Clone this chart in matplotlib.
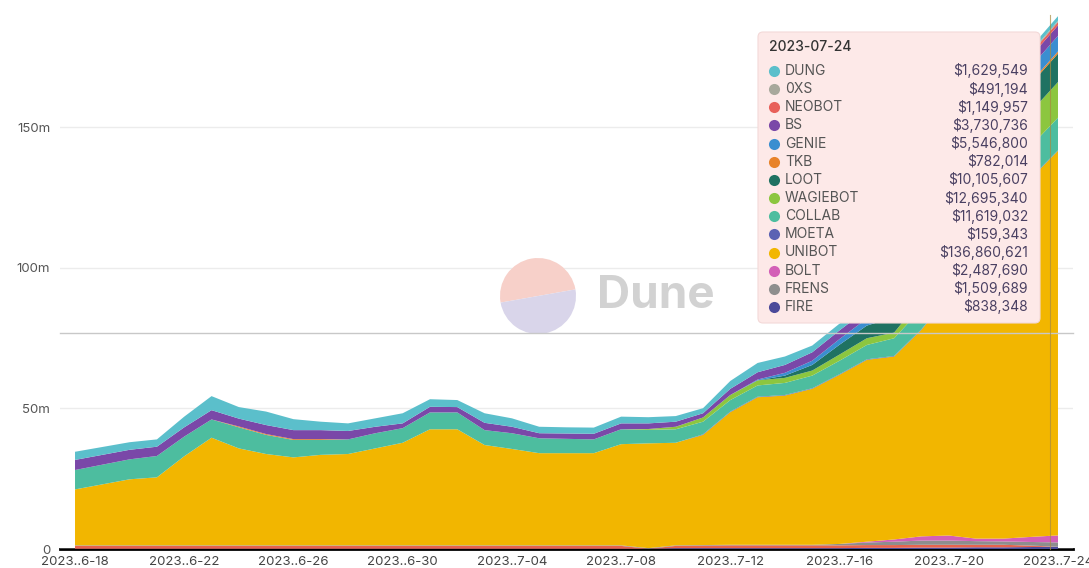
import numpy as np
import pandas as pd
import matplotlib
matplotlib.use("Agg")
import matplotlib.pyplot as plt
from matplotlib.patches import FancyBboxPatch, Wedge

plt.rcParams['font.family'] = ['Inter', 'DejaVu Sans']

# daily volume, millions of USD, 2023-06-18 .. 2023-07-24
dates = pd.date_range("2023-06-18", "2023-07-24", freq="D")

fire = [0.1] * 22 + [0.3, 0.3, 0.3, 0.3, 0.3, 0.3, 0.3, 0.4, 0.4, 0.5, 0.5, 0.6, 0.6, 0.7, 0.838348]
other_red = [1.0] * 21 + [0.0] + [0.8, 0.9, 1.0, 1.0, 1.0, 1.0, 1.0, 1.0, 1.0, 1.0, 1.0, 0.9, 0.9, 0.5, 0.0]
frens = [0.2] * 28 + [0.5, 0.9, 1.2, 1.5, 1.5, 1.3, 1.2, 1.3, 1.509689]
bolt = [0.0] * 29 + [0.3, 0.8, 1.5, 1.8, 0.9, 1.0, 1.8, 2.48769]
unibot = [19.9, 21.7, 23.5, 24.2, 31.7, 38.3, 34.5, 32.5, 31.3, 32.2,
          32.5, 34.5, 36.5, 41.3, 41.3, 35.7, 34.3, 32.8, 32.8, 32.8,
          36.0, 37.3, 36.5, 39.2, 47.2, 52.5, 53.1, 55.5, 60.2, 64.7,
          65.1, 73.5, 85.0, 98.0, 112.0, 127.5, 136.860621]
moeta = [0.0] * 23 + [0.2] * 13 + [0.159343]
collab = [6.9, 7.0, 7.1, 7.6, 7.0, 6.5, 7.5, 6.8, 6.2, 5.3,
          5.2, 5.4, 5.2, 6.0, 6.0, 5.3, 5.6, 5.3, 5.1, 4.9,
          5.3, 4.8, 4.8, 4.5, 4.1, 4.0, 4.3, 4.5, 4.8, 5.1,
          6.3, 7.3, 8.3, 9.3, 10.1, 11.3, 11.619032]
wagiebot = [0.0] * 21 + [0.3, 0.9, 1.5, 1.8, 1.8, 1.8, 1.8, 2.2, 2.4, 2.0, 3.5, 5.5, 8.0, 10.0, 12.2, 12.69534]
loot = [0.0] * 26 + [0.8, 2.0, 3.5, 4.5, 5.5, 6.5, 7.5, 8.3, 9.0, 9.9, 10.105607]
tkb = [0.0] * 6 + [0.3] * 4 + [0.0] * 23 + [0.3, 0.5, 0.7, 0.782014]
genie = [0.0] * 25 + [0.3, 1.0, 1.5, 2.0, 2.5, 3.0, 3.5, 4.0, 4.5, 5.0, 5.4, 5.5468]
bs = [3.6, 3.5, 3.4, 3.3, 3.3, 3.3, 2.8, 3.2, 3.2, 3.2,
      3.0, 2.3, 1.7, 2.0, 1.9, 2.6, 2.3, 1.8, 1.9, 2.0,
      2.1, 2.0, 1.8, 1.5, 2.2, 2.6, 2.8, 3.0, 3.1, 3.2,
      3.3, 3.4, 3.5, 3.6, 3.6, 3.7, 3.730736]
neobot = [0.0] * 32 + [0.3, 0.6, 0.8, 1.1, 1.149957]
oxs = [0.0] * 33 + [0.2, 0.3, 0.45, 0.491194]
dung = [2.9, 2.8, 2.7, 2.6, 3.8, 5.0, 4.1, 4.8, 3.9, 3.0,
        2.7, 3.0, 3.6, 2.7, 2.5, 3.4, 3.0, 2.3, 2.2, 2.2,
        2.4, 2.2, 2.0, 1.8, 2.8, 3.3, 3.0, 2.4, 2.4, 2.3,
        2.2, 2.0, 1.9, 1.8, 1.7, 1.7, 1.629549]

# bottom -> top
stack_names = ["FIRE", "", "FRENS", "BOLT", "UNIBOT", "MOETA", "COLLAB", "WAGIEBOT",
               "LOOT", "TKB", "GENIE", "BS", "NEOBOT", "0XS", "DUNG"]
stack_values = [fire, other_red, frens, bolt, unibot, moeta, collab, wagiebot,
                loot, tkb, genie, bs, neobot, oxs, dung]
stack_colors = ["#4b4a9a", "#e8624c", "#8e8e8e", "#d35fb7", "#f2b600", "#5b62b3",
                "#4dbd9f", "#8cc63f", "#1f7262", "#e8832a", "#3a8ed0", "#7a48a8",
                "#e8605a", "#a8a89c", "#5bbfcb"]

fig = plt.figure(figsize=(10.89, 5.68), dpi=100)
ax = fig.add_axes([60 / 1089, 19 / 568, 1013 / 1089, 548 / 568])

days = np.arange(len(dates))
ax.stackplot(days, *stack_values, colors=stack_colors, linewidth=0, zorder=1)

ax.set_xlim(-0.55, days[-1] + 0.55)
ax.set_ylim(0, 195)
ax.set_yticks([0, 50, 100, 150])
ax.set_yticklabels(["0", "50m", "100m", "150m"])
ax.yaxis.grid(True, color="#ececec", linewidth=1, zorder=0)
ax.set_axisbelow(True)

tick_days = days[::4]
ax.set_xticks(tick_days)
ax.set_xticklabels([f"{d.year}..{d.month}-{d.day:02d}" for d in dates[::4]])
ax.tick_params(axis="y", length=0, pad=7, labelsize=9.5, labelcolor="#555555")
ax.tick_params(axis="x", length=0, pad=5, labelsize=9.5, labelcolor="#444444")

for s in ["top", "right", "left"]:
    ax.spines[s].set_visible(False)
ax.spines["bottom"].set_color("black")
ax.spines["bottom"].set_linewidth(2)
ax.spines["bottom"].set_zorder(0.5)

# overlay in pixel coordinates for watermark / tooltip
ov = fig.add_axes([0, 0, 1, 1])
ov.set_xlim(0, 1089)
ov.set_ylim(568, 0)
ov.axis("off")
ov.patch.set_alpha(0)

# watermark (y axis is flipped here, so angles run clockwise on screen)
ov.add_patch(Wedge((538, 296), 38, 170, 350, facecolor="#f7d0c9", edgecolor="none"))
ov.add_patch(Wedge((538, 296), 38, -10, 170, facecolor="#d9d5ea", edgecolor="none"))
ov.text(597, 296, "Dune", fontsize=33, fontweight="bold", color="#d2d2d2",
        ha="left", va="center")

# cursor crosshair
ov.plot([60, 1073], [333, 333], color="#c8c8c8", linewidth=1)
ov.plot([1050, 1050], [15, 549], color="#a88a40", linewidth=0.8, alpha=0.7)

# tooltip
ov.add_patch(FancyBboxPatch((758, 32), 282, 291, boxstyle="round,pad=0,rounding_size=5",
                            facecolor="#fde9e8", edgecolor="#f3d9d8", linewidth=0.8))
ov.text(769, 47, dates[-1].strftime("%Y-%m-%d"), fontsize=10, color="#333333",
        ha="left", va="center", fontweight="medium")

legend_order = list(range(len(stack_names)))[::-1]
row = 0
for i in legend_order:
    if not stack_names[i]:
        continue
    y = 71 + 18.15 * row
    ov.plot(774, y, "o", markersize=8, color=stack_colors[i], markeredgewidth=0)
    ov.text(785, y, stack_names[i], fontsize=10, color="#555555", ha="left", va="center")
    ov.text(1028, y, f"${stack_values[i][-1] * 1e6:,.0f}", fontsize=10,
            color="#4a4062", ha="right", va="center")
    row += 1

fig.savefig("out.png", dpi=100)
